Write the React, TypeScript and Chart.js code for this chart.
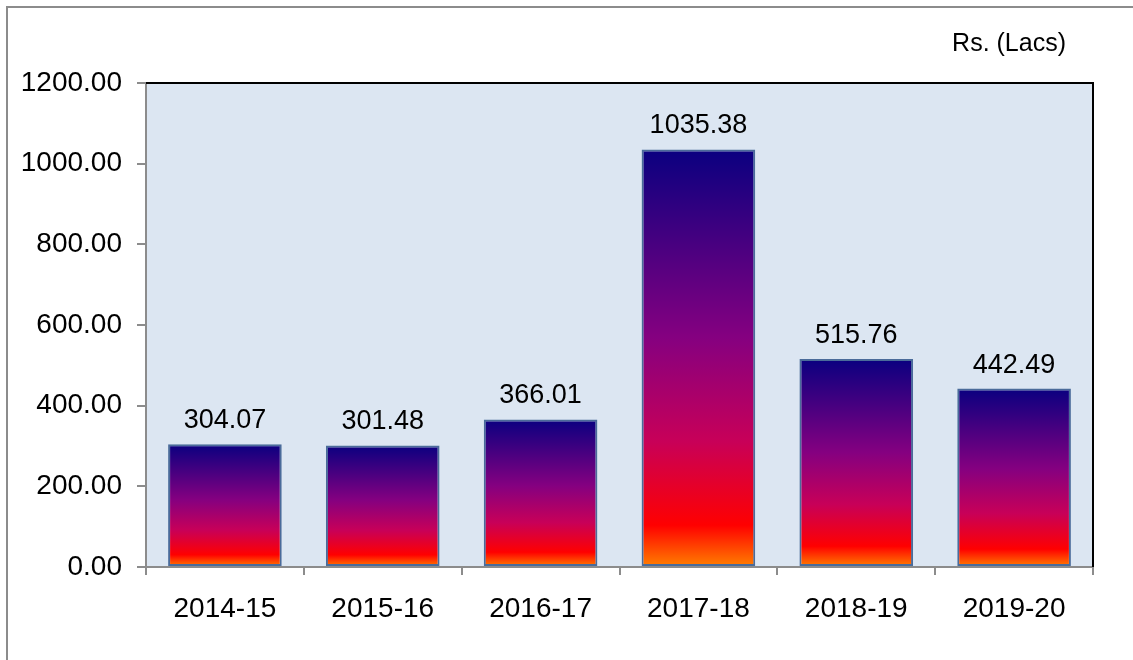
import React, { useEffect, useRef } from "react";
import { Chart, registerables } from "chart.js";

Chart.register(...registerables);

const categories = ["2014-15", "2015-16", "2016-17", "2017-18", "2018-19", "2019-20"];
const values = [304.07, 301.48, 366.01, 1035.38, 515.76, 442.49];
const yTicks = [0, 200, 400, 600, 800, 1000, 1200];
const unitLabel = "Rs. (Lacs)";

const FONT = "'Liberation Sans', Arial, sans-serif";

const decorPlugin = {
  id: "decor",
  beforeDraw(chart: any) {
    const { ctx, chartArea: a } = chart;
    ctx.save();
    ctx.fillStyle = "#ffffff";
    ctx.fillRect(0, 0, chart.width, chart.height);
    // outer frame (left + top)
    ctx.fillStyle = "#8c8c8c";
    ctx.fillRect(6, 6, chart.width - 6, 2);
    ctx.fillRect(6, 6, 2, chart.height - 6);
    // plot background
    ctx.fillStyle = "#dce6f2";
    ctx.fillRect(a.left, a.top, a.right - a.left, a.bottom - a.top);
    ctx.restore();
  },
  afterDatasetsDraw(chart: any) {
    const { ctx, chartArea: a } = chart;
    ctx.save();
    ctx.fillStyle = "#000000";
    ctx.fillRect(a.left, a.top - 1, a.right - a.left + 1, 2);
    ctx.fillRect(a.right - 1, a.top - 1, 2, a.bottom - a.top + 1);
    // data labels
    const meta = chart.getDatasetMeta(0);
    ctx.font = `27px ${FONT}`;
    ctx.textAlign = "center";
    ctx.textBaseline = "alphabetic";
    meta.data.forEach((el: any, i: number) => {
      ctx.fillText(values[i].toFixed(2), el.x, el.y - 16);
    });
    // unit label
    ctx.font = `25px ${FONT}`;
    ctx.textAlign = "right";
    ctx.fillText(unitLabel, 1066, 51);
    ctx.restore();
  },
};

function barGradient(c: any) {
  const chart = c.chart;
  const y = chart.scales?.y;
  if (!y || !chart.chartArea || c.raw == null) return "#800080";
  const top = y.getPixelForValue(c.raw);
  const bottom = y.getPixelForValue(0);
  if (!isFinite(top) || !isFinite(bottom) || top === bottom) return "#800080";
  const g = chart.ctx.createLinearGradient(0, top, 0, bottom);
  g.addColorStop(0, "#0a0080");
  g.addColorStop(0.45, "#850080");
  g.addColorStop(0.7, "#c80058");
  g.addColorStop(0.9, "#ff0000");
  g.addColorStop(1, "#ff8000");
  return g;
}

export default function App() {
  const ref = useRef<HTMLCanvasElement>(null);
  useEffect(() => {
    if (!ref.current) return;
    const chart = new Chart(ref.current, {
      type: "bar",
      data: {
        labels: categories,
        datasets: [
          {
            data: values,
            backgroundColor: barGradient as any,
            borderColor: "#4a6b9a",
            borderWidth: 2,
            borderSkipped: false,
            categoryPercentage: 0.72,
            barPercentage: 1,
          },
        ],
      },
      options: {
        animation: false,
        responsive: false,
        devicePixelRatio: 1,
        layout: { padding: { left: 0, top: 83, right: 40, bottom: 0 } },
        plugins: { legend: { display: false }, tooltip: { enabled: false } },
        scales: {
          x: {
            grid: {
              offset: true,
              drawOnChartArea: false,
              drawTicks: true,
              tickLength: 8,
              color: "#8c8c8c",
              lineWidth: 2,
            },
            border: { color: "#8c8c8c", width: 2 },
            ticks: {
              color: "#000000",
              font: { family: FONT, size: 28 },
              padding: 17,
              maxRotation: 0,
            },
            afterFit(s: any) {
              s.height = 93;
            },
          },
          y: {
            min: 0,
            max: 1200,
            afterBuildTicks(s: any) {
              s.ticks = yTicks.map((v) => ({ value: v }));
            },
            grid: {
              drawOnChartArea: false,
              drawTicks: true,
              tickLength: 9,
              color: "#8c8c8c",
              lineWidth: 2,
            },
            border: { color: "#8c8c8c", width: 2 },
            ticks: {
              color: "#000000",
              font: { family: FONT, size: 28 },
              padding: 15,
              callback: (v: any) => Number(v).toFixed(2),
            },
            afterFit(s: any) {
              s.width = 146;
            },
          },
        },
      },
      plugins: [decorPlugin],
    });
    return () => chart.destroy();
  }, []);
  return (
    <div style={{ position: "absolute", left: 0, top: 0, width: 1133, height: 660 }}>
      <canvas ref={ref} width={1133} height={660} style={{ width: 1133, height: 660, display: "block" }} />
    </div>
  );
}
